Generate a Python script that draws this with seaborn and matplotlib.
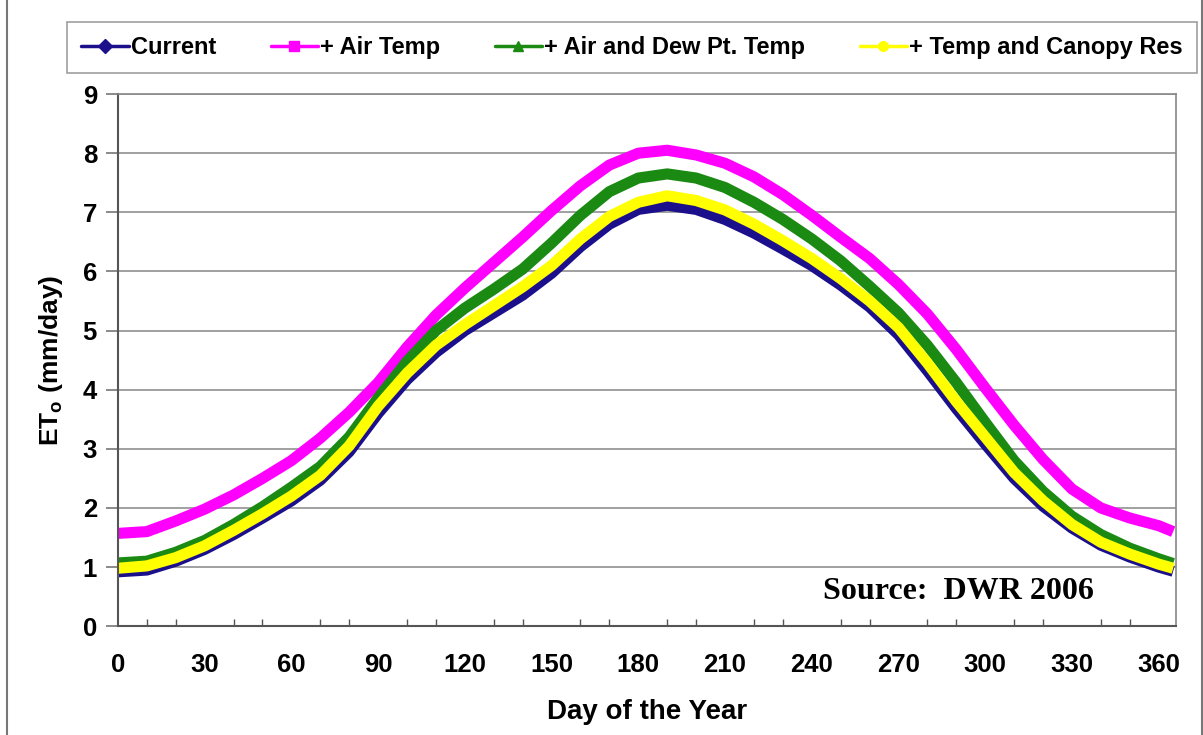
import numpy as np
import pandas as pd
import seaborn as sns
import matplotlib.pyplot as plt
from matplotlib.lines import Line2D
from matplotlib.patches import Rectangle

# data (ETo, mm/day)
days = [0, 10, 20, 30, 40, 50, 60, 70, 80, 90, 100, 110, 120, 130, 140, 150, 160, 170, 180,
        190, 200, 210, 220, 230, 240, 250, 260, 270, 280, 290, 300, 310, 320, 330, 340, 350, 360, 365]

current = [0.92, 0.95, 1.10, 1.30, 1.55, 1.83, 2.12, 2.47, 2.95, 3.60, 4.17, 4.63, 5.00, 5.30,
           5.60, 5.97, 6.42, 6.80, 7.05, 7.12, 7.05, 6.88, 6.65, 6.38, 6.10, 5.77, 5.40, 4.93,
           4.32, 3.68, 3.08, 2.50, 2.03, 1.66, 1.37, 1.17, 1.00, 0.93]
air_temp = [1.57, 1.60, 1.78, 1.98, 2.22, 2.50, 2.80, 3.18, 3.62, 4.12, 4.72, 5.26, 5.72, 6.15,
            6.58, 7.03, 7.45, 7.80, 8.00, 8.05, 7.97, 7.83, 7.60, 7.30, 6.95, 6.58, 6.22, 5.78,
            5.28, 4.68, 4.03, 3.40, 2.82, 2.32, 2.00, 1.83, 1.70, 1.60]
air_dew = [1.07, 1.10, 1.25, 1.45, 1.72, 2.02, 2.35, 2.70, 3.20, 3.86, 4.48, 5.00, 5.38, 5.70,
           6.04, 6.48, 6.95, 7.35, 7.58, 7.65, 7.58, 7.42, 7.17, 6.88, 6.55, 6.18, 5.75, 5.30,
           4.75, 4.12, 3.45, 2.80, 2.28, 1.86, 1.55, 1.32, 1.14, 1.06]
canopy = [0.98, 1.02, 1.16, 1.36, 1.62, 1.90, 2.20, 2.55, 3.05, 3.72, 4.28, 4.75, 5.10, 5.42,
          5.74, 6.10, 6.55, 6.93, 7.17, 7.28, 7.20, 7.04, 6.80, 6.52, 6.22, 5.88, 5.50, 5.05,
          4.45, 3.80, 3.20, 2.60, 2.12, 1.72, 1.42, 1.22, 1.05, 0.98]

series_names = ['Current', '+ Air Temp', '+ Air and Dew Pt. Temp', '+ Temp and Canopy Res']
colors = ['#1c0f8c', '#ff00ff', '#1a8a12', '#ffff00']
markers = ['D', 's', '^', 'o']

df = pd.DataFrame({'day': days * 4,
                   'eto': current + air_temp + air_dew + canopy,
                   'series': np.repeat(series_names, len(days))})

sns.set_style('white')
plt.rcParams['font.family'] = ['Liberation Sans', 'DejaVu Sans']
plt.rcParams['mathtext.fontset'] = 'custom'
plt.rcParams['mathtext.bf'] = 'Liberation Sans:bold'
plt.rcParams['mathtext.rm'] = 'Liberation Sans'
plt.rcParams['text.color'] = 'black'
plt.rcParams['axes.labelcolor'] = 'black'
plt.rcParams['xtick.color'] = 'black'
plt.rcParams['ytick.color'] = 'black'

fig = plt.figure(figsize=(12.03, 7.35), dpi=100)
ax = fig.add_axes([0.098, 0.148, 0.8796, 0.724])

sns.lineplot(data=df, x='day', y='eto', hue='series', hue_order=series_names,
             palette=colors, linewidth=8, legend=False, ax=ax, sort=False,
             solid_capstyle='butt', solid_joinstyle='round')

ax.set_xlim(0, 366)
ax.set_ylim(0, 9)
ax.set_xticks(range(0, 361, 30))
ax.set_xticks(range(0, 366, 10), minor=True)
ax.set_yticks(range(0, 10))
ax.tick_params(axis='x', which='major', direction='inout', length=14, width=1.2, color='#555555',
               labelsize=18.5, pad=12)
ax.tick_params(axis='x', which='minor', direction='in', length=5, width=1, color='#555555',
               bottom=True)
ax.tick_params(axis='y', which='major', direction='out', length=9, width=1.2, color='#777777',
               labelsize=18.5, pad=6, left=True)
for lbl in ax.get_xticklabels() + ax.get_yticklabels():
    lbl.set_fontweight('bold')

ax.yaxis.grid(True, color='#999999', linewidth=1.3)
ax.set_axisbelow(True)
for side in ['left', 'bottom']:
    ax.spines[side].set_color('#555555')
    ax.spines[side].set_linewidth(1.5)
for side in ['right', 'top']:
    ax.spines[side].set_color('#888888')
    ax.spines[side].set_linewidth(1.2)

ax.set_xlabel('Day of the Year', fontsize=20, fontweight='bold', labelpad=16)
ax.set_ylabel(r'ET$_\mathbf{o}$ (mm/day)', fontsize=19, fontweight='bold', labelpad=13)

ax.text(0.922, 0.065, 'Source:  DWR 2006', transform=ax.transAxes, ha='right', va='center',
        fontsize=23, fontweight='bold', family=['Liberation Serif', 'DejaVu Serif'])

handles = [Line2D([0], [0], color=c, marker=m, markersize=7, linewidth=2.5, markerfacecolor=c)
           for c, m in zip(colors, markers)]
leg = fig.legend(handles, series_names, loc='center', bbox_to_anchor=(0.5255, 0.9355), ncol=4,
                 frameon=True, fancybox=False, edgecolor='#888888',
                 handlelength=2.0, handletextpad=0.1, columnspacing=2.3,
                 borderpad=0.6, prop={'weight': 'bold', 'size': 17})
leg.get_frame().set_linewidth(1.2)

# outer frame of the figure
fig.patches.append(Rectangle((0.006, -0.01), 0.993, 1.02, transform=fig.transFigure,
                             fill=False, edgecolor='#777777', linewidth=1.5))

plt.savefig('out.png', dpi=100)
plt.close()
